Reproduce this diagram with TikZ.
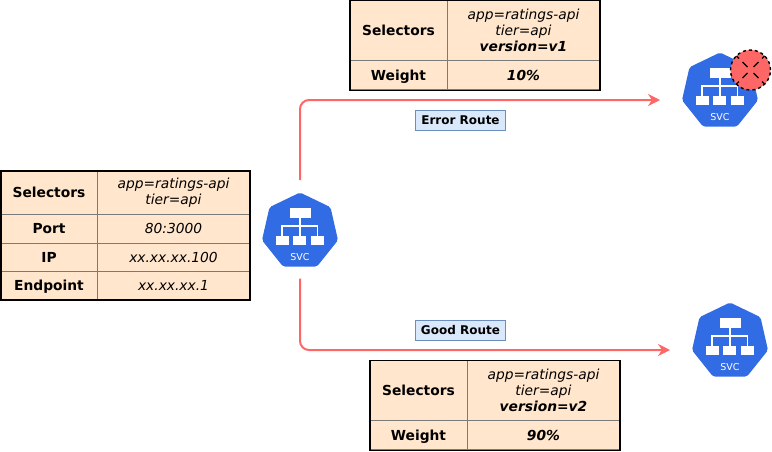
\documentclass[tikz,border=0pt]{standalone}
\usepackage{fontspec}
\setmainfont{DejaVu Sans}
\usetikzlibrary{shapes.geometric, arrows.meta}
\definecolor{svcblue}{HTML}{326CE5}
\definecolor{routered}{HTML}{FF6666}
\definecolor{cellpeach}{HTML}{FFE6CC}
\definecolor{cellline}{HTML}{7A7A7A}
\definecolor{tagblue}{HTML}{DAE8FC}
\definecolor{tagline}{HTML}{6C8EBF}
\tikzset{
 svcshape/.style={regular polygon, regular polygon sides=7, minimum size=78pt, inner sep=0pt, outer sep=0pt, fill=svcblue, rounded corners=2pt},
 svcbox/.style={fill=white, draw=none},
 svcwire/.style={draw=white, line width=1.1pt},
 svctext/.style={text=white, font=\fontsize{9.5}{9.5}\selectfont, inner sep=0pt},
 cellbase/.style={draw=cellline, fill=cellpeach, line width=.8pt, inner sep=0pt, align=center},
 cellkey/.style={cellbase, text height=10pt, text depth=0pt, font=\fontsize{13.8}{16}\selectfont\bfseries},
 cellval/.style={cellbase, font=\fontsize{13.8}{16}\selectfont\itshape},
 tableframe/.style={draw=black, line width=1.4pt, inner sep=0pt, fill=none},
 routetag/.style={draw=tagline, fill=tagblue, line width=.8pt, inner sep=0pt, minimum width=90pt, minimum height=20pt, font=\fontsize{12}{12}\selectfont\bfseries},
 route/.style={-{Stealth[length=12pt, width=12pt, inset=4pt]}, draw=routered, line width=2pt, rounded corners=9pt},
}
% white glyph on top of a service shape
\newcommand{\svcglyph}[1]{
 \begin{scope}[shift={(#1)}]
 \fill[svcbox] (-10.5,-23.2) rectangle (10.5,-13.8);
 \fill[svcbox] (-24.3,4.2) rectangle (-11.3,13.8);
 \fill[svcbox] (-6.7,4.2) rectangle (6.3,13.8);
 \fill[svcbox] (11,4.2) rectangle (24,13.8);
 \draw[svcwire] (0,-14)--(0,-5.5);
 \draw[svcwire] (-18,4.5)--(-18,-5.5)--(17.5,-5.5)--(17.5,4.5);
 \draw[svcwire] (0,-5.5)--(0,4.5);
 \node[svctext] at (0,26) {SVC};
 \end{scope}
}
\begin{document}
\begin{tikzpicture}[>=stealth, x=1pt, y=-1pt]
 \useasboundingbox (0,0) rectangle (772,451);

 % service icons
 \node[svcshape] (svcmain) at (300,231.5) {};
 \svcglyph{svcmain}
 \node[svcshape] (svcerror) at (720,91.5) {};
 \svcglyph{svcerror}
 \node[svcshape] (svcgood) at (730,341.5) {};
 \svcglyph{svcgood}

 % failure badge
 \node[circle, draw=black, fill=routered, dashed, line width=1.4pt, minimum size=40pt, inner sep=0pt] (badge) at (750.5,70) {};
 \draw[line width=1.3pt] (badge.center)+(-8,-8)--+(-3,-3) (badge.center)+(8,-8)--+(3,-3) (badge.center)+(-8,8)--+(-3,3) (badge.center)+(8,8)--+(3,3);
 \draw[line width=1.3pt] (badge.center)+(-14,-14)--+(-11.5,-11.5) (badge.center)+(14,-14)--+(11.5,-11.5) (badge.center)+(-14,14)--+(-11.5,11.5) (badge.center)+(14,14)--+(11.5,11.5);

 % routes
 \draw[route] ([yshift=12.5pt]svcmain.north) |- ([shift={(-60,8.5)}]svcerror.center);
 \draw[route] ([yshift=-12pt]svcmain.south) |- ([shift={(-60,8.5)}]svcgood.center);
 \node[routetag] (errortag) at (460.5,120.3) {Error Route};
 \node[routetag] (goodtag) at (460.5,330.3) {Good Route};

 % service table
 \node[cellkey, minimum width=96pt, minimum height=43pt] (mainselkey) at (49,192.5) {Selectors};
 \node[cellval, minimum width=153pt, minimum height=43pt] (mainselval) at (173.5,192.5) {app=ratings-api\\tier=api};
 \node[cellkey, minimum width=96pt, minimum height=29pt] (mainportkey) at (49,228.5) {Port};
 \node[cellval, minimum width=153pt, minimum height=29pt] (mainportval) at (173.5,228.5) {80:3000};
 \node[cellkey, minimum width=96pt, minimum height=28pt] (mainipkey) at (49,257) {IP};
 \node[cellval, minimum width=153pt, minimum height=28pt] (mainipval) at (173.5,257) {xx.xx.xx.100};
 \node[cellkey, minimum width=96pt, minimum height=29pt] (mainendkey) at (49,285.5) {Endpoint};
 \node[cellval, minimum width=153pt, minimum height=29pt] (mainendval) at (173.5,285.5) {xx.xx.xx.1};
 \node[tableframe, minimum width=249pt, minimum height=129pt] (maintable) at (125.5,235.5) {};

 % error route table
 \node[cellkey, minimum width=97pt, minimum height=60pt] (errselkey) at (398.5,30.5) {Selectors};
 \node[cellval, minimum width=153pt, minimum height=60pt] (errselval) at (523.5,30.5) {app=ratings-api\\tier=api\\{\bfseries version=v1}};
 \node[cellkey, minimum width=97pt, minimum height=29pt] (errweightkey) at (398.5,75) {Weight};
 \node[cellval, minimum width=153pt, minimum height=29pt] (errweightval) at (523.5,75) {\bfseries 10\%};
 \node[tableframe, minimum width=250pt, minimum height=90pt] (errtable) at (475,45.3) {};

 % good route table
 \node[cellkey, minimum width=97pt, minimum height=60pt] (goodselkey) at (418.5,390.5) {Selectors};
 \node[cellval, minimum width=153pt, minimum height=60pt] (goodselval) at (543.5,390.5) {app=ratings-api\\tier=api\\{\bfseries version=v2}};
 \node[cellkey, minimum width=97pt, minimum height=29pt] (goodweightkey) at (418.5,435) {Weight};
 \node[cellval, minimum width=153pt, minimum height=29pt] (goodweightval) at (543.5,435) {\bfseries 90\%};
 \node[tableframe, minimum width=250pt, minimum height=90pt] (goodtable) at (495,405.3) {};

\end{tikzpicture}
\end{document}
